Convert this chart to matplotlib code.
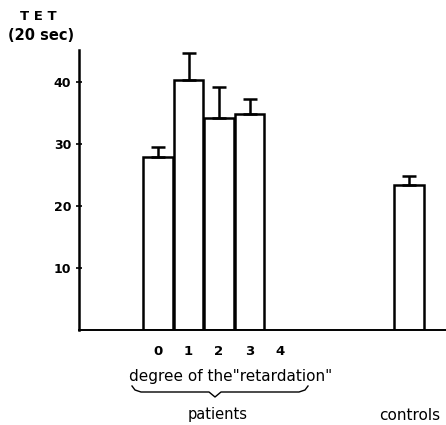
import matplotlib.pyplot as plt
import numpy as np

# data
degrees = ['0', '1', '2', '3', '4']
patient_mean = [27.9, 40.3, 34.2, 34.8]
patient_err = [1.6, 4.4, 5.0, 2.5]
control_mean = 23.4
control_err = 1.4
yticks = [10, 20, 30, 40]

fig = plt.figure(figsize=(4.46, 4.25), dpi=100)
ax = fig.add_axes([79/446, 1 - 330/425, 1 - 79/446, 280/425])

xpos = np.arange(len(patient_mean))
ctrl_x = 8.23
bw = 0.98
kw = dict(width=bw, color='white', edgecolor='black', linewidth=1.8)
ax.bar(xpos, patient_mean, **kw)
ax.bar([ctrl_x], [control_mean], **kw)

# one-sided error bars
ax.errorbar(xpos, patient_mean, yerr=[np.zeros(len(patient_err)), patient_err],
            fmt='none', ecolor='black', elinewidth=1.8, capsize=5, capthick=1.8)
ax.errorbar([ctrl_x], [control_mean], yerr=[[0], [control_err]],
            fmt='none', ecolor='black', elinewidth=1.8, capsize=5, capthick=1.8)

ax.set_xlim(-2.59, 9.44)
ax.set_ylim(0, 45.2)
for s in ['top', 'right']:
    ax.spines[s].set_visible(False)
ax.spines['left'].set_linewidth(1.8)
ax.spines['bottom'].set_linewidth(1.4)

ax.set_yticks(yticks)
ax.set_yticklabels([str(t) for t in yticks], fontsize=9, fontweight='bold')
ax.tick_params(axis='y', direction='inout', length=5, width=1.2, pad=3)
ax.set_xticks(range(len(degrees)))
ax.set_xticklabels(degrees, fontsize=9.5, fontweight='bold')
ax.tick_params(axis='x', length=0, pad=11)

fig.text(38/446, 1 - 16/425, 'T E T', fontsize=9.5, fontweight='bold',
         ha='center', va='center')
fig.text(41/446, 1 - 35/425, '(20 sec)', fontsize=10.5, fontweight='bold',
         ha='center', va='center')

fig.text(231/446, 1 - 376/425, 'degree of the"retardation"', fontsize=11,
         ha='center', va='center')
fig.text(218/446, 1 - 415/425, 'patients', fontsize=10.5,
         ha='center', va='center')
fig.text(410/446, 1 - 415/425, 'controls', fontsize=11,
         ha='center', va='center')

# curly brace under the degree labels
bx = np.array([132, 135, 141, 209, 215, 221, 299, 305, 308])
by = np.array([386, 390, 392, 392, 397, 392, 392, 390, 386])
fig.add_artist(plt.Line2D(bx/446, 1 - by/425, color='black', linewidth=1.0,
                          transform=fig.transFigure))

fig.savefig('out.png', dpi=100)
